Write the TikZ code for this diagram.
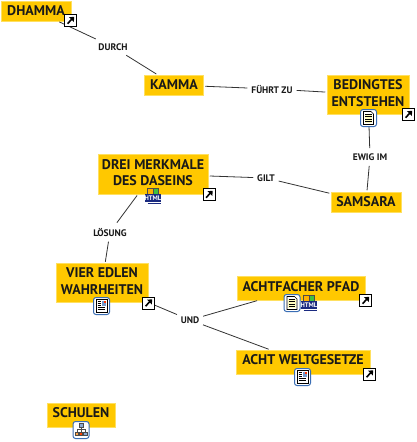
\documentclass[tikz,border=0pt]{standalone}
\usepackage{fontspec}
\setmainfont{PT Sans}
\definecolor{boxfill}{HTML}{FFC800}
\definecolor{boxedge}{HTML}{FFE060}
\definecolor{linecol}{HTML}{333333}
\definecolor{iconblue}{HTML}{3A6EB5}
\definecolor{navy}{HTML}{1A2A80}
\newcommand\lft[1]{\rule[-#1]{0pt}{#1}}
\tikzset{
  x=1pt,y=-1pt,
  concept/.style={draw=boxedge,line width=0.5pt,fill=boxfill,align=center,inner sep=0pt,
    font=\fontsize{14}{16.5}\selectfont\bfseries,text=black!90},
  link/.style={inner xsep=2.5pt,inner ysep=4pt,outer sep=0pt,font=\fontsize{9.5}{11}\selectfont\bfseries,text=black!90},
  conn/.style={draw=linecol,line width=0.8pt,shorten <=1.5pt,shorten >=1.5pt},
  iconframe/.style={draw=iconblue,line width=1pt,fill=white,rounded corners=2.5pt,minimum width=16pt,minimum height=17pt,inner sep=0pt},
  linkframe/.style={draw=black,line width=1pt,fill=white,minimum width=12pt,minimum height=12pt,inner sep=0pt},
}
\newcommand\arrowicon[2]{%
  \node[linkframe] (#1) at (#2) {};
  \draw[line width=1.6pt,black] ([xshift=-3pt,yshift=-3.2pt]#1.center) -- ([xshift=2pt,yshift=2pt]#1.center);
  \fill[black] ([xshift=3.6pt,yshift=3.6pt]#1.center) -- ([xshift=-1.6pt,yshift=3.4pt]#1.center) -- ([xshift=3.4pt,yshift=-1.6pt]#1.center) -- cycle;
}
\newcommand\docicon[2]{%
  \node[iconframe] (#1) at (#2) {};
  \fill[white,draw=black,line width=0.6pt] ([xshift=-5pt,yshift=6.5pt]#1.center) -- ([xshift=2.5pt,yshift=6.5pt]#1.center) -- ([xshift=5pt,yshift=4pt]#1.center) -- ([xshift=5pt,yshift=-6.5pt]#1.center) -- ([xshift=-5pt,yshift=-6.5pt]#1.center) -- cycle;
  \fill[yellow!25] ([xshift=-3.6pt,yshift=4.5pt]#1.center) rectangle ([xshift=3.6pt,yshift=-5pt]#1.center);
  \foreach \d in {3.5,1.2,-1.1,-3.4}{\draw[black,line width=0.7pt] ([xshift=-3.2pt,yshift=\d pt]#1.center) -- ([xshift=3.2pt,yshift=\d pt]#1.center);}
}
\newcommand\picdocicon[2]{%
  \node[iconframe] (#1) at (#2) {};
  \fill[white,draw=black,line width=0.6pt] ([xshift=-5.5pt,yshift=6.5pt]#1.center) rectangle ([xshift=5.5pt,yshift=-6.5pt]#1.center);
  \foreach \d in {-1,-3}{\draw[black,line width=0.7pt] ([xshift=-3.8pt,yshift=\d pt]#1.center) -- ([xshift=3.8pt,yshift=\d pt]#1.center);}
  \foreach \d in {4.5,2.5,0.5}{\draw[black,line width=0.7pt] ([xshift=-3.8pt,yshift=\d pt]#1.center) -- ([xshift=-0.5pt,yshift=\d pt]#1.center);}
  \fill[iconblue!70] ([xshift=0.3pt,yshift=5pt]#1.center) rectangle ([xshift=4.3pt,yshift=0.3pt]#1.center);
  \fill[red!60!orange] ([xshift=2.5pt,yshift=5pt]#1.center) rectangle ([xshift=4.3pt,yshift=3pt]#1.center);
}
\newcommand\treeicon[2]{%
  \node[iconframe] (#1) at (#2) {};
  \draw[black!70,line width=0.5pt] ([yshift=4pt]#1.center) -- ([yshift=-2pt]#1.center)
    ([xshift=-4pt,yshift=1pt]#1.center) -- ([xshift=4pt,yshift=1pt]#1.center)
    ([xshift=-4pt,yshift=1pt]#1.center) -- ([xshift=-4pt,yshift=-2pt]#1.center)
    ([xshift=4pt,yshift=1pt]#1.center) -- ([xshift=4pt,yshift=-2pt]#1.center);
  \fill[iconblue!60,draw=black!70,line width=0.4pt] ([xshift=-1.8pt,yshift=6.5pt]#1.center) rectangle ([xshift=1.8pt,yshift=3pt]#1.center);
  \fill[orange!70,draw=black!70,line width=0.4pt] ([xshift=-6pt,yshift=-2pt]#1.center) rectangle ([xshift=-2.6pt,yshift=-5.5pt]#1.center);
  \fill[iconblue!60,draw=black!70,line width=0.4pt] ([xshift=2.6pt,yshift=-2pt]#1.center) rectangle ([xshift=6pt,yshift=-5.5pt]#1.center);
  \fill[red!50!orange,draw=black!70,line width=0.4pt] ([xshift=-1.5pt,yshift=-2pt]#1.center) rectangle ([xshift=1.5pt,yshift=-5.5pt]#1.center);
}
\newcommand\htmlicon[2]{%
  \node[minimum width=15pt,minimum height=15pt,inner sep=0pt] (#1) at (#2) {};
  \fill[orange!60!yellow,draw=black!70,line width=0.4pt] ([xshift=-5.5pt,yshift=7.5pt]#1.center) rectangle ([xshift=0pt,yshift=1.5pt]#1.center);
  \fill[green!50!gray,draw=black!70,line width=0.4pt] ([xshift=0pt,yshift=7.5pt]#1.center) rectangle ([xshift=5.5pt,yshift=1.5pt]#1.center);
  \fill[navy] ([xshift=-8pt,yshift=1.8pt]#1.center) rectangle ([xshift=8pt,yshift=-5.5pt]#1.center);
  \draw[navy,line width=0.7pt] ([xshift=-5.5pt,yshift=-7.3pt]#1.center) -- ([xshift=8pt,yshift=-7.3pt]#1.center);
  \node[font=\fontsize{6.6}{7}\selectfont\bfseries,text=white,inner sep=0pt] (#1t) at ([yshift=-1.9pt]#1.center) {HTML};
}
\begin{document}
\begin{tikzpicture}
\useasboundingbox (0,0) rectangle (417,442);
\fill[white] (0,0) rectangle (417,442);

\node[concept,minimum width=70pt,minimum height=20pt] (dhamma) at (36,11) {DHAMMA};
\node[concept,minimum width=59pt,minimum height=20pt] (kamma) at (174,85) {KAMMA};
\node[concept,minimum width=82pt,minimum height=39pt] (bedingtes) at (368,94.5) {BEDINGTES\\ENTSTEHEN\lft{3pt}};
\node[concept,minimum width=110pt,minimum height=40pt] (drei) at (153,174) {DREI MERKMALE\\DES DASEINS\lft{3pt}};
\node[concept,minimum width=70pt,minimum height=20pt] (samsara) at (366,202) {SAMSARA};
\node[concept,minimum width=92pt,minimum height=39pt] (vier) at (102,283) {VIER EDLEN\\WAHRHEITEN\lft{4pt}};
\node[concept,minimum width=128pt,minimum height=24pt] (pfad) at (301,288) {ACHTFACHER PFAD\lft{4pt}};
\node[concept,minimum width=134pt,minimum height=24pt] (welt) at (303,362) {ACHT WELTGESETZE\lft{5pt}};
\node[concept,minimum width=68pt,minimum height=24pt] (schulen) at (81,415) {SCHULEN\lft{5pt}};

\node[link] (durch) at (113,47) {DURCH};
\node[link] (fuehrt) at (272,89) {FÜHRT ZU};
\node[link] (ewig) at (370,157) {EWIG IM};
\node[link] (gilt) at (266,178) {GILT};
\node[link] (loesung) at (110,232) {LÖSUNG};
\node[link] (und) at (190,320) {UND};

\draw[conn] (dhamma) -- (durch);
\draw[conn] (durch) -- (kamma);
\draw[conn] (kamma) -- (fuehrt);
\draw[conn] (fuehrt) -- (bedingtes);
\draw[conn] (bedingtes) -- (ewig);
\draw[conn] (ewig) -- (samsara);
\draw[conn] (samsara) -- (gilt);
\draw[conn] (gilt) -- (drei);
\draw[conn] (drei) -- (loesung);
\draw[conn] (loesung) -- (vier);
\draw[conn] (vier) -- (und);
\draw[conn] (und) -- (pfad);
\draw[conn] (und) -- (welt);

\arrowicon{a1}{70.5,20.5}
\arrowicon{a2}{408.5,114.5}
\arrowicon{a3}{209,194.5}
\arrowicon{a4}{148.5,303}
\arrowicon{a5}{365.5,300.5}
\arrowicon{a6}{369.5,374}
\docicon{d1}{368.5,118}
\picdocicon{d2}{101.5,306}
\docicon{d3}{292,303}
\htmlicon{h1}{309,303}
\htmlicon{h2}{153,196}
\picdocicon{d4}{302.5,377}
\treeicon{t1}{74+7,430}
\end{tikzpicture}
\end{document}
